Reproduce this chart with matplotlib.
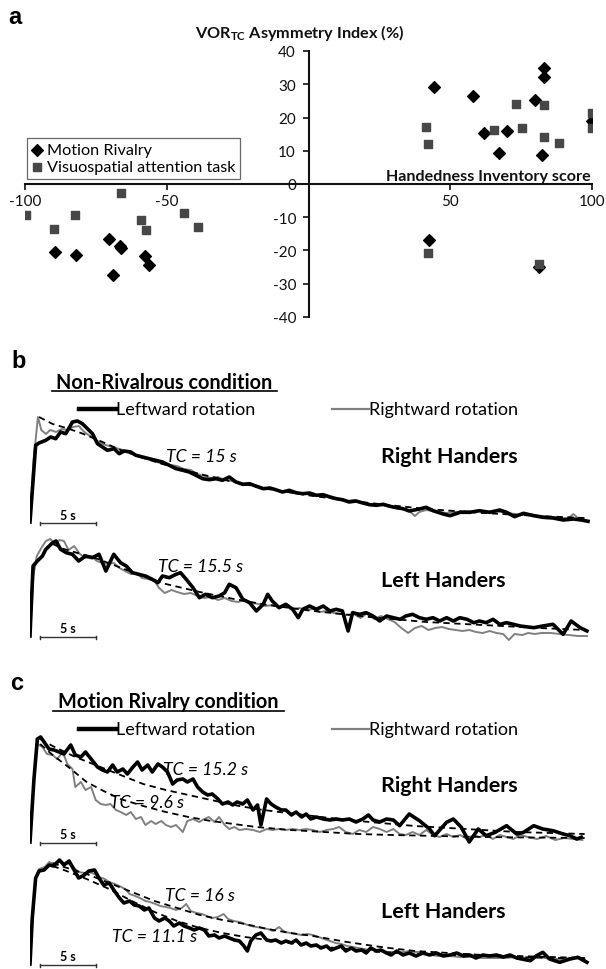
import matplotlib
matplotlib.use('Agg')
import matplotlib.pyplot as plt
from matplotlib.lines import Line2D

plt.rcParams['font.family'] = ['Lato', 'DejaVu Sans']
plt.rcParams['axes.unicode_minus'] = False
plt.rcParams['mathtext.fontset'] = 'custom'
plt.rcParams['mathtext.rm'] = 'Lato'
plt.rcParams['mathtext.bf'] = 'Lato:bold'

W, H = 606, 970

# ---------------- Panel a data ----------------
mr_x = [44.1, 58.2, 79.9, 82.9, 82.9, 62.0, 69.9, 67.2, 82.2, 100.0, 42.4, 81.2,
        -89.5, -82.1, -70.5, -66.4, -66.1, -69.0, -57.5, -56.2]
mr_y = [29.2, 26.4, 25.3, 35.0, 32.2, 15.4, 15.8, 9.4, 8.6, 19.0, -16.7, -25.0,
        -20.6, -21.3, -16.5, -18.5, -19.3, -27.3, -21.8, -24.5]
va_x = [41.4, 42.2, 65.3, 73.2, 75.3, 83.2, 83.2, 88.2, 100.0, 100.0, 42.2, 81.2,
        -99.6, -89.6, -82.3, -66.3, -59.2, -57.4, -44.0, -39.0]
va_y = [17.2, 12.1, 16.1, 24.0, 16.7, 23.8, 14.2, 12.4, 21.4, 16.7, -20.7, -24.2,
        -9.2, -13.5, -9.2, -2.6, -10.8, -13.7, -8.6, -13.0]
a_xticks = [-100, -50, 50, 100]
a_yticks = [-40, -30, -20, -10, 0, 10, 20, 30, 40]
legend_labels = ['Motion Rivalry', 'Visuospatial attention task']

# ---------------- Panel b/c traces: (time s, velocity a.u.) ----------------
b_rh_leftward = [(0, 0), (0.5, 76.7), (0.8, 79), (1.39, 81.7), (1.83, 85), (2.27, 83.3), (2.71, 90), (3.16, 88.3),
    (3.75, 100), (4.19, 101), (4.63, 98.3), (5.07, 93.3), (5.52, 88.3), (5.96, 78.3), (6.4, 75), (6.84, 71.7),
    (7.43, 73.3), (7.88, 68.3), (8.32, 71), (8.9, 70), (9.35, 66.7), (9.94, 65), (10.53, 63.3), (11.1, 61.7),
    (11.7, 60), (12.3, 56.7), (12.9, 53.3), (13.5, 51.7), (14.07, 50), (14.66, 46.7), (15.25, 43.3), (15.84, 42.3),
    (16.43, 43.3), (17.0, 41.7), (17.6, 45), (18.2, 40), (18.8, 37.7), (19.4, 38.3), (20.0, 35.7), (20.6, 33.3),
    (21.2, 34), (21.7, 32.3), (22.3, 30), (22.9, 31.7), (23.5, 29.3), (24.1, 28.3), (24.7, 29), (25.3, 26.7),
    (25.9, 27.3), (26.5, 25), (27.05, 23.3), (27.6, 22.3), (28.2, 20), (28.8, 21), (29.4, 19), (30.0, 17.3),
    (30.6, 16.7), (31.2, 17.7), (31.8, 15.7), (32.4, 14.3), (32.95, 13.3), (33.5, 11), (34.4, 13), (35.0, 14.7),
    (35.6, 11.3), (36.5, 8), (37.1, 6.3), (38.0, 9.7), (38.85, 9.7), (39.7, 11.3), (40.6, 9.7), (41.5, 12),
    (42.1, 9.7), (42.8, 5.3), (43.6, 8.7), (44.5, 6.3), (45.3, 4.7), (46.2, 4), (47.1, 2), (48.0, 3), (48.7, 2),
    (49.3, 0.7)]
b_rh_rightward = [(0, 0), (0.3, 60), (0.7, 105), (1.0, 92), (1.4, 88), (1.8, 92), (2.3, 90), (2.8, 93), (3.3, 92),
    (3.8, 95), (4.3, 96), (4.8, 90), (5.3, 86), (5.8, 82), (6.4, 78), (7.0, 76), (7.6, 74), (8.2, 72), (8.8, 69),
    (9.4, 67), (10.0, 65), (10.6, 63), (11.2, 60), (11.8, 58), (12.4, 57), (13.0, 56), (13.6, 53), (14.2, 52),
    (14.8, 48), (15.4, 46), (16.0, 44), (16.6, 45), (17.2, 42), (17.8, 41), (18.4, 39), (19.0, 38), (19.6, 37),
    (20.2, 36), (20.8, 33), (21.4, 33), (22.0, 31), (22.6, 31), (23.2, 29), (23.8, 28), (24.4, 28), (25.0, 27),
    (25.6, 27), (26.2, 25), (26.8, 24), (27.4, 22), (28.0, 21), (28.6, 22), (29.2, 20), (29.8, 18), (30.4, 17),
    (31.0, 17), (31.6, 16), (32.2, 14), (32.8, 13), (33.4, 12), (34.0, 6), (34.4, 10), (35.0, 12), (35.6, 11),
    (36.2, 10), (36.8, 9), (37.4, 10), (38.0, 10), (38.6, 11), (39.2, 10), (39.8, 11), (40.4, 10), (41.0, 11),
    (41.6, 10), (42.2, 9), (42.8, 8), (43.4, 7), (44.0, 8), (44.6, 7), (45.2, 6), (45.8, 5), (46.4, 5), (47.0, 4),
    (47.6, 4), (48.0, 8), (48.4, 4), (49.0, 2)]
b_rh_fit = [(0.8, 105), (2, 98), (3.2, 94), (4.5, 89), (5.8, 83), (8, 72), (10, 64), (12, 57), (15, 48), (18, 40),
    (21, 33), (25, 26), (30, 19), (35, 13), (40, 9), (45, 6), (49, 4)]

b_lh_leftward = [(0, 0), (0.06, 16.7), (0.27, 70), (0.65, 75), (1.1, 80), (1.4, 86.7), (1.7, 90), (2.0, 93.3),
    (2.3, 95), (2.7, 86.7), (3.2, 83.3), (3.75, 81.7), (4.3, 75), (4.9, 80), (5.5, 78.3), (6.1, 81.7), (6.7, 65),
    (7.4, 81.7), (8.0, 73.3), (8.5, 70), (9.05, 63.3), (9.6, 61.7), (10.2, 60), (10.8, 56.7), (11.3, 53.3),
    (11.7, 60), (12.3, 58.3), (12.9, 61.7), (13.3, 63.3), (13.8, 56.7), (14.4, 48.3), (14.96, 38.3), (15.5, 41.7),
    (16.1, 38.3), (16.7, 40), (17.2, 43.3), (17.6, 51.7), (18.2, 48.3), (18.8, 36.7), (19.4, 33.3), (20.0, 25),
    (20.6, 31.7), (21.0, 41.7), (21.4, 35), (22.0, 28.3), (22.6, 31.7), (23.2, 26.7), (23.7, 18.3), (24.1, 26.7),
    (24.7, 30), (25.3, 26.7), (25.9, 30), (26.5, 25), (27.05, 26.7), (27.6, 25), (28.1, 5), (28.5, 23.3),
    (29.1, 21.7), (29.7, 23.3), (30.3, 20), (30.9, 15), (31.5, 20), (32.1, 18.3), (32.7, 16.7), (33.2, 20),
    (33.8, 21.7), (34.4, 18.3), (35.0, 16.7), (35.6, 18.3), (36.2, 15), (36.8, 18.3), (37.4, 15), (37.97, 18.3),
    (38.6, 16.7), (39.2, 13.3), (39.7, 15), (40.3, 13.3), (40.9, 16.7), (41.5, 11.7), (42.1, 13.3), (42.7, 11.7),
    (43.3, 10), (44.5, 8.3), (45.3, 10), (46.2, 11.7), (47.1, 1.7), (47.8, 15), (48.6, 8.3), (49.2, 5)]
b_lh_rightward = [(0, 0), (0.3, 60), (0.6, 80), (1.0, 88), (1.4, 95), (1.8, 97), (2.2, 92), (2.6, 96), (3.0, 95),
    (3.4, 86), (3.9, 90), (4.4, 82), (4.9, 78), (5.4, 80), (5.9, 75), (6.4, 73), (6.9, 72), (7.4, 73), (7.9, 68),
    (8.4, 65), (8.9, 62), (9.4, 63), (9.9, 58), (10.4, 57), (11.0, 55), (11.4, 48), (11.9, 43), (12.5, 46),
    (13.0, 44), (13.6, 42), (14.2, 43), (14.8, 40), (15.4, 38), (16.0, 39), (16.6, 36), (17.2, 38), (17.8, 35),
    (18.4, 34), (19.0, 36), (19.6, 33), (20.2, 32), (20.8, 30), (21.4, 31), (22.0, 29), (22.6, 30), (23.2, 27),
    (23.8, 28), (24.4, 26), (25.0, 27), (25.6, 24), (26.2, 25), (26.8, 23), (27.4, 22), (28.0, 21), (28.6, 22),
    (29.2, 18), (29.8, 23), (30.4, 17), (31.0, 20), (31.6, 17), (32.2, 14), (32.8, 8), (33.4, 3), (34.0, 8),
    (34.6, 10), (35.2, 6), (35.8, 8), (36.4, 9), (37.0, 7), (37.6, 6), (38.2, 5), (38.8, 6), (39.4, 4), (40.0, 3),
    (40.6, 5), (41.2, 3), (41.8, 2), (42.3, -4), (42.8, 2), (43.5, 1), (44.0, 3), (44.6, 2), (45.2, 3), (46.0, 3),
    (46.8, 2), (47.6, 1), (48.4, 0), (49.2, 0)]
b_lh_fit = [(2.0, 92), (3, 87), (6, 77), (9, 64), (12, 52), (15, 44), (18, 37), (21, 31), (25, 25), (30, 19),
    (35, 14), (40, 11), (45, 8), (49, 6)]

c_rh_leftward = [(0, 0), (0.35, 63), (0.65, 103), (0.94, 105), (1.24, 100), (1.68, 93), (2.12, 92), (2.57, 90),
    (3.0, 88), (3.6, 97), (4.0, 87), (4.5, 85), (4.9, 90), (5.4, 83), (5.96, 75), (6.4, 72), (6.84, 70), (7.3, 77),
    (7.7, 70), (8.2, 73), (8.6, 68), (9.1, 75), (9.5, 80), (9.9, 72), (10.4, 77), (10.8, 70), (11.3, 78),
    (11.7, 75), (12.15, 70), (12.6, 58), (13.0, 62), (13.5, 63), (13.9, 60), (14.4, 63), (14.8, 55), (15.25, 50),
    (15.7, 47), (16.1, 48), (16.6, 43), (17.0, 38), (17.5, 40), (17.9, 37), (18.3, 40), (18.8, 38), (19.2, 42),
    (19.7, 32), (20.1, 37), (20.4, 17), (20.9, 43), (21.3, 38), (21.7, 35), (22.2, 32), (22.6, 32), (23.1, 27),
    (23.5, 30), (24.0, 25), (24.4, 28), (24.8, 23), (25.3, 25), (25.9, 23), (26.5, 22), (27.05, 23), (27.6, 22),
    (28.2, 23), (28.8, 20), (29.4, 23), (29.9, 27), (30.3, 22), (30.9, 20), (31.5, 23), (32.1, 22), (32.65, 16.3),
    (33.5, 28), (34.4, 21.3), (35.3, 13), (35.75, 6.3), (36.8, 19.7), (37.4, 23), (38.1, 14.7), (38.8, 0),
    (39.6, 13), (40.3, 6.3), (41.1, 9.7), (42.1, 16.3), (43.0, 8), (43.6, 9.7), (44.5, 16.3), (45.3, 13),
    (46.2, 11.3), (47.1, 8), (47.7, 6.3), (48.3, 3), (48.7, 4.7)]
c_rh_rightward = [(0, 0), (0.35, 63), (0.65, 98), (1.1, 95), (1.5, 88), (2.0, 87), (2.4, 83), (2.9, 90), (3.3, 78),
    (3.75, 73), (4.0, 55), (4.5, 60), (4.9, 52), (5.4, 55), (5.8, 42), (6.25, 38), (6.7, 37), (7.1, 38), (7.6, 32),
    (8.0, 30), (8.5, 27), (8.9, 30), (9.35, 23), (9.8, 25), (10.2, 17), (10.7, 21), (11.1, 18), (11.6, 21),
    (12.0, 17), (12.45, 15), (12.9, 17), (13.5, 10), (13.9, 21), (14.4, 23), (14.95, 20), (15.4, 23), (15.8, 25),
    (16.3, 20), (16.7, 25), (17.2, 17), (17.6, 13), (18.05, 15), (18.5, 12), (19.1, 13), (19.7, 12), (20.3, 10),
    (20.9, 13), (21.4, 12), (22.0, 13), (22.6, 12), (23.2, 13), (23.8, 12), (24.4, 13), (25.0, 12), (25.6, 10),
    (26.2, 12), (26.8, 13), (27.3, 15), (27.9, 10), (28.5, 8), (29.1, 12), (29.7, 10), (30.3, 15), (30.9, 13),
    (31.5, 10), (32.1, 13), (32.65, 8), (33.2, 7), (33.8, 10), (34.4, 7), (35.0, 12), (35.6, 7), (36.2, 5),
    (36.8, 8), (37.4, 5), (38.0, 7), (38.6, 3), (39.2, 7), (39.7, 5), (40.3, 7), (40.9, 3), (41.5, 7), (42.1, 5),
    (42.7, 3), (43.3, 7), (44.0, 5), (44.8, 3), (45.6, 6), (46.4, 2), (47.2, 4), (48.0, 3), (48.8, 2)]
c_rh_fit_leftward = [(0.9, 103), (2, 96), (4, 85), (6, 76), (8, 67), (10, 58), (12, 52), (14, 47), (16, 42),
    (18, 37), (20, 33), (22, 30), (25, 26), (28, 22), (31, 19), (34, 16), (37, 14), (40, 12), (43, 10), (46, 9),
    (49, 8)]
c_rh_fit_rightward = [(0.9, 98), (2, 87), (3.5, 74), (5, 60), (6.5, 51), (8, 43), (10, 36), (12, 30), (14, 25),
    (16, 21), (18, 18), (20, 15), (23, 12), (26, 10), (29, 8), (32, 7), (36, 6), (40, 5), (44, 4.5), (49, 4)]

c_lh_leftward = [(0, 0), (0.2, 46), (0.5, 86), (0.8, 93), (1.24, 94), (1.7, 99), (2.1, 98), (2.6, 104), (3.0, 99),
    (3.45, 103), (3.9, 94), (4.3, 86), (4.8, 89), (5.2, 93), (5.7, 94), (6.1, 86), (6.5, 79), (7.0, 81), (7.4, 74),
    (7.9, 66), (8.3, 61), (8.8, 63), (9.2, 59), (9.65, 58), (10.1, 54), (10.5, 56), (11.0, 46), (11.4, 43),
    (11.9, 46), (12.3, 43), (12.7, 38), (13.2, 41), (13.6, 38), (14.1, 36), (14.5, 34), (14.96, 36), (15.4, 34),
    (15.8, 28), (16.3, 29), (16.7, 26), (17.2, 28), (17.6, 26), (18.05, 24), (18.5, 23), (18.9, 18), (19.2, 13),
    (19.5, 23), (19.95, 29), (20.4, 31), (20.9, 24), (21.3, 23), (21.7, 24), (22.2, 21), (22.6, 23), (23.1, 21),
    (23.5, 24), (23.95, 19), (24.4, 21), (24.8, 18), (25.3, 19), (25.7, 16), (26.2, 18), (26.6, 14), (27.05, 16),
    (27.5, 18), (27.9, 13), (28.4, 16), (28.8, 13), (29.3, 14), (29.7, 11), (30.1, 16), (30.6, 13), (31.0, 14),
    (31.5, 11), (31.9, 9), (32.4, 13), (32.95, 9), (33.5, 11), (34.1, 8), (34.7, 11), (35.3, 9), (35.9, 11),
    (36.5, 8), (37.1, 9), (37.7, 11), (38.3, 8), (38.85, 9), (39.4, 6), (40.0, 9), (40.6, 8), (41.2, 9), (41.8, 7),
    (42.4, 9), (43.0, 6), (44.2, 3.3), (44.75, 8.3), (45.3, 11.7), (45.9, 5), (46.8, 1.7), (47.7, 5), (48.4, 6.7),
    (49.2, 1.7)]
c_lh_rightward = [(0, 0), (0.2, 40), (0.5, 85), (0.8, 95), (1.3, 97), (1.7, 102), (2.1, 100), (2.6, 103), (3.0, 101),
    (3.5, 100), (3.9, 96), (4.3, 92), (4.8, 91), (5.2, 92), (5.7, 90), (6.1, 87), (6.6, 85), (7.0, 82), (7.5, 80),
    (7.9, 78), (8.4, 75), (8.8, 70), (9.3, 68), (9.7, 66), (10.2, 63), (10.6, 62), (11.1, 60), (11.5, 58),
    (12.0, 57), (12.4, 56), (12.9, 54), (13.4, 56), (13.8, 60), (14.2, 53), (14.7, 51), (15.2, 50), (15.6, 48),
    (16.1, 46), (16.6, 47), (17.1, 50), (17.5, 45), (18.0, 43), (18.5, 42), (19.0, 40), (19.5, 38), (20.0, 37),
    (20.5, 36), (21.0, 35), (21.5, 33), (22.0, 37), (22.5, 32), (23.0, 31), (23.5, 30), (24.0, 29), (24.5, 30),
    (25.0, 29), (25.5, 27), (26.0, 25), (26.5, 23), (27.0, 21), (27.5, 20), (28.0, 18), (28.5, 17), (29.0, 16),
    (29.5, 15), (30.0, 14), (30.5, 14), (31.0, 13), (31.5, 12), (32.0, 12), (32.5, 11), (33.0, 12), (33.5, 13),
    (34.0, 12), (34.5, 12), (35.0, 10), (35.5, 9), (36.0, 8), (37.0, 8), (38.0, 7), (39.0, 7), (40.0, 6),
    (41.0, 6), (42.0, 6), (43.0, 7), (44.0, 6), (45.0, 7), (46.0, 5), (47.0, 5), (48.0, 6), (49.0, 5)]
c_lh_fit_rightward = [(2.0, 101), (3, 97), (5, 90), (7, 81), (9, 72), (11, 63), (13, 56), (15, 49), (17, 44),
    (19, 40), (21, 35), (23, 31), (25, 28), (28, 22), (31, 17), (34, 13), (37, 11), (40, 9), (43, 8), (46, 7),
    (49, 6)]
c_lh_fit_leftward = [(2.0, 98), (3, 94), (5, 85), (7, 75), (9, 63), (11, 52), (13, 43), (15, 36), (17, 31),
    (19, 27), (21, 24), (23, 21), (25, 18), (28, 15), (31, 12), (34, 10), (37, 9), (40, 8), (43, 7), (46, 6),
    (49, 6)]

scale_bar = (0.85, 5.85)   # 5 s bar (start, end) in s

# ---------------- Figure ----------------
fig = plt.figure(figsize=(W / 100, H / 100), dpi=100)
fig.patch.set_facecolor('white')
renderer = fig.canvas.get_renderer()

def fx(x):
    return x / W

def fy(y):
    return 1 - y / H

def text_width(s, size, **kw):
    t = fig.text(0, 0.5, s, fontsize=size, **kw)
    w = t.get_window_extent(renderer).width
    t.remove()
    return w

def fit_size(s, target_px, **kw):
    return 10.0 * target_px / text_width(s, 10.0, **kw)

# Panel a
ax = fig.add_axes([fx(25), fy(318), fx(592) - fx(25), fy(52) - fy(318)])
ax.set_xlim(-100, 100)
ax.set_ylim(-40, 40)
ax.scatter(mr_x, mr_y, marker='D', s=36, color='black', zorder=3, label=legend_labels[0])
ax.scatter(va_x, va_y, marker='s', s=40, color='#474747', zorder=4, label=legend_labels[1])
for s in ['top', 'right']:
    ax.spines[s].set_visible(False)
ax.spines['left'].set_position(('data', 0))
ax.spines['bottom'].set_position(('data', 0))
for s in ['left', 'bottom']:
    ax.spines[s].set_linewidth(1.5)
    ax.spines[s].set_color('#111111')
ax.set_xticks(a_xticks)
ax.set_yticks(a_yticks)
ax.set_yticklabels([str(v) for v in a_yticks])
ax.tick_params(axis='both', direction='out', length=4, width=1.2, labelsize=11, colors='#111111')
ax.tick_params(axis='y', pad=5)
ax.tick_params(axis='x', pad=3)
ax.patch.set_alpha(0)
leg_fs = fit_size(legend_labels[1], 190)
leg = ax.legend(loc='upper left', bbox_to_anchor=(fx(27), fy(139)), bbox_transform=fig.transFigure,
                frameon=True, fancybox=False, borderaxespad=0, borderpad=0.3, handlelength=0.6,
                handletextpad=0.3, labelspacing=0.15, fontsize=leg_fs, scatterpoints=1)
leg.get_frame().set_edgecolor('#444444')
leg.get_frame().set_linewidth(0.9)

fig.text(fx(15), fy(18), 'a', fontsize=17, fontweight='bold', ha='center', va='center',
         family=['Liberation Sans'])
title = r'VOR$_{\mathbf{TC}}$ Asymmetry Index (%)'
fig.text(fx(195), fy(33), title, fontsize=fit_size(title, 209, fontweight='bold'), fontweight='bold',
         ha='left', va='center', color='#111111')
hlab = 'Handedness Inventory score'
fig.text(fx(591), fy(181), hlab, fontsize=fit_size(hlab, 207, fontweight='bold'), fontweight='bold',
         ha='right', va='baseline', color='#111111')

# Panels b & c
def trace_axes(baseline_px):
    vmin, vmax = -10, 112
    a = fig.add_axes([fx(30), fy(baseline_px - vmin), fx(596) - fx(30), (vmax - vmin) / H])
    a.set_xlim(0, 50)
    a.set_ylim(vmin, vmax)
    a.axis('off')
    return a

def unz(pairs):
    return [p[0] for p in pairs], [p[1] for p in pairs]

def draw(a, black, gray, fits):
    t, v = unz(gray)
    a.plot(t, v, color='#808080', lw=1.4, zorder=2)
    for f in fits:
        t, v = unz(f)
        a.plot(t, v, color='black', lw=1.3, ls=(0, (3.5, 2.5)), zorder=3)
    t, v = unz(black)
    a.plot(t, v, color='black', lw=2.6, zorder=4, solid_joinstyle='round')
    a.plot(scale_bar, [-1, -1], color='#333333', lw=1.0)
    for xb in scale_bar:
        a.plot([xb, xb], [-2.5, 0.5], color='#333333', lw=1.0)
    a.text(sum(scale_bar) / 2, 1.5, '5 s', fontsize=9, fontweight='bold', ha='center', va='bottom')

TCFS = fit_size('TC = 15.2 s', 85, style='italic')
HFS = fit_size('Right Handers', 137, fontweight='bold')

def tc(x, y, s):
    fig.text(fx(x), fy(y), s, style='italic', fontsize=TCFS, ha='left', va='center')

def hand(y, s):
    fig.text(fx(381), fy(y), s, fontweight='bold', fontsize=HFS, ha='left', va='center')

a1 = trace_axes(523)
draw(a1, b_rh_leftward, b_rh_rightward, [b_rh_fit])
tc(166, 457, 'TC = 15 s')
hand(457, 'Right Handers')

a2 = trace_axes(637)
draw(a2, b_lh_leftward, b_lh_rightward, [b_lh_fit])
tc(158, 567, 'TC = 15.5 s')
hand(581, 'Left Handers')

a3 = trace_axes(843)
draw(a3, c_rh_leftward, c_rh_rightward, [c_rh_fit_leftward, c_rh_fit_rightward])
tc(163, 770, 'TC = 15.2 s')
tc(110, 803, 'TC = 9.6 s')
hand(786, 'Right Handers')

a4 = trace_axes(965)
draw(a4, c_lh_leftward, c_lh_rightward, [c_lh_fit_leftward, c_lh_fit_rightward])
tc(165, 896, 'TC = 16 s')
tc(112, 937, 'TC = 11.1 s')
hand(912, 'Left Handers')

# headers
COND_FS = fit_size('Non-Rivalrous condition', 217, fontweight='bold')
LEG_FS = fit_size('Rightward rotation', 149)

def header(letter, lx, ly, title, tx, ty, uy, ux0, ux1, legy):
    fig.text(fx(lx), fy(ly), letter, fontsize=17, fontweight='bold', ha='center', va='center',
             family=['Liberation Sans'])
    fig.text(fx(tx), fy(ty), title, fontsize=COND_FS, fontweight='bold', ha='left', va='center')
    fig.add_artist(Line2D([fx(ux0), fx(ux1)], [fy(uy), fy(uy)], color='black', lw=1.2))
    fig.add_artist(Line2D([fx(79), fx(116)], [fy(legy), fy(legy)], color='black', lw=3.2))
    fig.text(fx(116), fy(legy), 'Leftward rotation', fontsize=LEG_FS, ha='left', va='center')
    fig.add_artist(Line2D([fx(332), fx(369)], [fy(legy), fy(legy)], color='#808080', lw=1.6))
    fig.text(fx(369), fy(legy), 'Rightward rotation', fontsize=LEG_FS, ha='left', va='center')

header('b', 19, 362, 'Non-Rivalrous condition', 56, 383, 392, 52, 277, 410)
header('c', 17, 683, 'Motion Rivalry condition', 58, 702, 712, 53, 284, 730)

fig.savefig('out.png', dpi=100, facecolor='white')
